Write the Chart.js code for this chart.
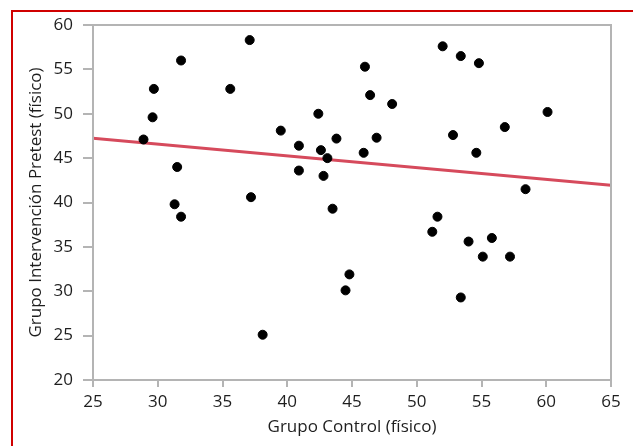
<!DOCTYPE html>
<html>
<head>
<meta charset="utf-8">
<script src="https://cdn.jsdelivr.net/npm/chart.js@4"></script>
<style>
  html, body { margin: 0; padding: 0; background: #fff; }
  #wrap { position: relative; width: 633px; height: 446px; overflow: hidden; }
  #frame { position: absolute; left: 11px; top: 10px; width: 700px; height: 500px; border: 2px solid #d00000; pointer-events: none; }
</style>
</head>
<body>
<div id="wrap">
  <canvas id="scatterChart" width="633" height="446"></canvas>
  <div id="frame"></div>
</div>
<script>
// Grupo Control (x) vs Grupo Intervención Pretest (y)
const controlX = [28.9, 29.6, 29.7, 31.8, 31.5, 31.3, 31.8, 35.6, 37.1, 37.2, 38.1, 39.5, 40.9, 40.9,
  42.4, 42.6, 43.1, 43.8, 42.8, 43.5, 44.8, 44.5, 46.0, 46.4, 48.1, 46.9, 45.9,
  52.0, 53.4, 54.8, 60.1, 56.8, 52.8, 54.6, 58.4, 51.6, 51.2, 54.0, 55.8, 55.1, 57.2, 53.4];
const pretestY = [47.1, 49.6, 52.8, 56.0, 44.0, 39.8, 38.4, 52.8, 58.3, 40.6, 25.1, 48.1, 46.4, 43.6,
  50.0, 45.9, 45.0, 47.2, 43.0, 39.3, 31.9, 30.1, 55.3, 52.1, 51.1, 47.3, 45.6,
  57.6, 56.5, 55.7, 50.2, 48.5, 47.6, 45.6, 41.5, 38.4, 36.7, 35.6, 36.0, 33.9, 33.9, 29.3];
// fitted line end points
const fitX = [25, 65];
const fitY = [47.25, 41.95];

const xTicks = [25, 30, 35, 40, 45, 50, 55, 60, 65];
const yTicks = [20, 25, 30, 35, 40, 45, 50, 55, 60];

const boxPlugin = {
  id: 'box',
  afterDatasetsDraw(chart) {
    const a = chart.chartArea, c = chart.ctx;
    c.save();
    c.strokeStyle = '#b4b4b4';
    c.lineWidth = 2;
    c.strokeRect(a.left, a.top, a.right - a.left, a.bottom - a.top);
    c.restore();
  }
};

const font = { family: "'Open Sans', 'Noto Sans', sans-serif", size: 17 };

new Chart(document.getElementById('scatterChart'), {
  type: 'scatter',
  data: {
    datasets: [{
      data: controlX.map((x, i) => ({ x: x, y: pretestY[i] })),
      backgroundColor: '#000',
      borderColor: '#000',
      pointRadius: 4.5,
      pointHoverRadius: 4.5,
      order: 0
    }, {
      type: 'line',
      data: fitX.map((x, i) => ({ x: x, y: fitY[i] })),
      borderColor: '#d64a5c',
      borderWidth: 3,
      pointRadius: 0,
      fill: false,
      order: 1
    }]
  },
  options: {
    responsive: false,
    animation: false,
    layout: { padding: { top: 25, right: 22, left: 0, bottom: 0 } },
    plugins: { legend: { display: false }, tooltip: { enabled: false } },
    scales: {
      x: {
        type: 'linear', min: 25, max: 65,
        afterBuildTicks: s => { s.ticks = xTicks.map(v => ({ value: v })); },
        afterFit: s => { s.height = 66; },
        grid: { drawOnChartArea: false, tickLength: 7, color: '#b4b4b4', lineWidth: 2 },
        border: { color: '#b4b4b4', width: 2 },
        ticks: { color: '#1e1e1e', font: font, padding: 5, maxRotation: 0 },
        title: { display: true, text: 'Grupo Control (físico)', color: '#1e1e1e', font: font, padding: { top: 0, bottom: 9 } }
      },
      y: {
        type: 'linear', min: 20, max: 60,
        afterBuildTicks: s => { s.ticks = yTicks.map(v => ({ value: v })); },
        afterFit: s => { s.width = 93; },
        grid: { drawOnChartArea: false, tickLength: 10, color: '#b4b4b4', lineWidth: 2 },
        border: { color: '#b4b4b4', width: 2 },
        ticks: { color: '#1e1e1e', font: font, padding: 10 },
        title: { display: true, text: 'Grupo Intervención Pretest (físico)', color: '#1e1e1e', font: font, padding: { top: 26, bottom: 0 } }
      }
    }
  },
  plugins: [boxPlugin]
});
</script>
</body>
</html>
